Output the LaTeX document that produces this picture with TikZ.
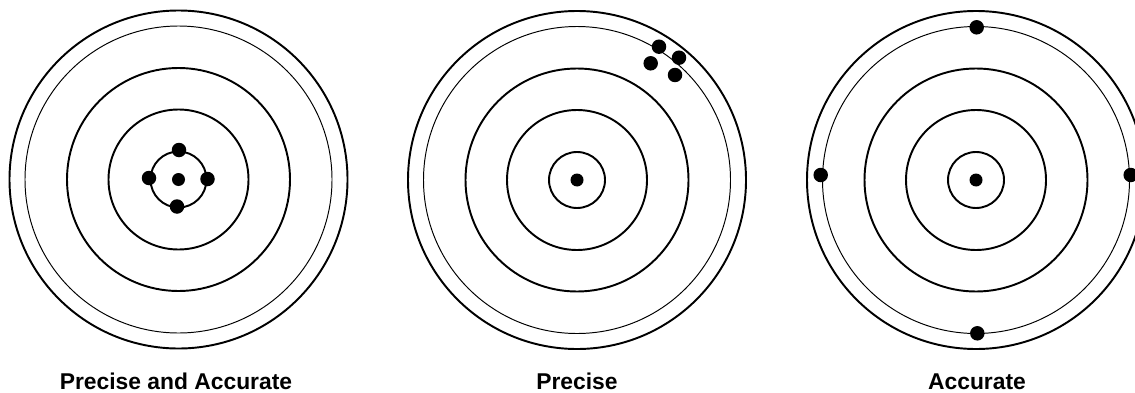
\documentclass[tikz,border=0pt]{standalone}
\usepackage{fontspec}
\setmainfont{Liberation Sans}
\usetikzlibrary{positioning}

\begin{document}
\begin{tikzpicture}[x=0.02cm, y=0.02cm]
  % Styles
  \tikzset{
    ring/.style={draw, line width=1.1pt},
    thinring/.style={draw, line width=0.55pt},
    dot/.style={circle, fill=black, inner sep=0pt, minimum size=0.29cm},
    bullseye/.style={dot, minimum size=0.26cm},
    caption/.style={font=\fontsize{13}{15}\selectfont\bfseries, anchor=base}
  }
  \useasboundingbox (0,0) rectangle (1135,-392);
  \clip (0,0) rectangle (1135,-392);

  % Targets
  \coordinate (pa) at (178.5,-179.5);
  \coordinate (pr) at (577,-180);
  \coordinate (ac) at (976,-180);
  \foreach \t in {pa,pr,ac}{
    \draw[ring] (\t) circle[radius=169];
    \draw[thinring] (\t) circle[radius=153.5];
    \draw[ring] (\t) circle[radius=111.5];
    \draw[ring] (\t) circle[radius=70];
    \draw[ring] (\t) circle[radius=28];
    \node[bullseye] (\t-c) at (\t) {};
  }

  % Hits: precise and accurate
  \node[dot] (pa-n) at (179,-150) {};
  \node[dot] (pa-w) at (149,-178) {};
  \node[dot] (pa-e) at (207.5,-179) {};
  \node[dot] (pa-s) at (177,-206.5) {};

  % Hits: precise
  \node[dot] (pr-1) at (659,-46.7) {};
  \node[dot] (pr-2) at (679,-57.7) {};
  \node[dot] (pr-3) at (650.7,-63.3) {};
  \node[dot] (pr-4) at (675,-75) {};

  % Hits: accurate
  \node[dot] (ac-n) at (976.7,-27.3) {};
  \node[dot] (ac-w) at (820.7,-175) {};
  \node[dot] (ac-e) at (1130.7,-175) {};
  \node[dot] (ac-s) at (977.3,-333.3) {};

  % Labels
  \node[caption] (pa-label) at (176,-389) {Precise and Accurate};
  \node[caption] (pr-label) at (577,-389) {Precise};
  \node[caption] (ac-label) at (977,-389) {Accurate};
\end{tikzpicture}
\end{document}
